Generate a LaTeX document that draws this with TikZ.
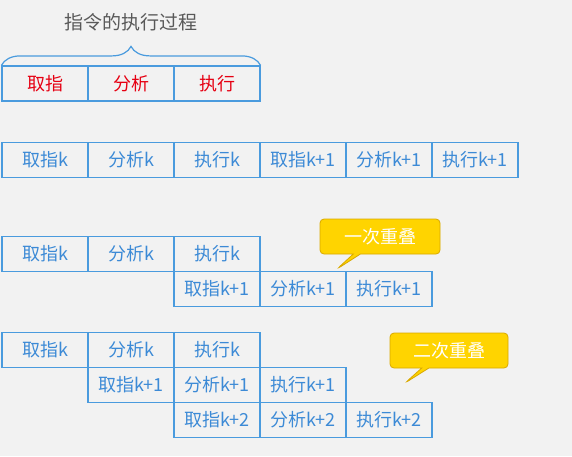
\documentclass[tikz,border=0pt]{standalone}
\usepackage{fontspec}
\setmainfont{Noto Sans CJK SC}
\usetikzlibrary{shapes.callouts,decorations.pathreplacing}
\definecolor{bg}{HTML}{F2F2F2}
\definecolor{cellblue}{HTML}{4A9BDE}
\definecolor{txtblue}{HTML}{3C8AD6}
\definecolor{redtxt}{HTML}{E60012}
\definecolor{titlegray}{HTML}{595959}
\definecolor{gold}{HTML}{FFD400}
\definecolor{golddark}{HTML}{D9A900}
\tikzset{
  cell/.style={draw=cellblue, line width=1.2pt, minimum width=86pt, minimum height=35pt,
    inner sep=0pt, text=txtblue, font=\fontsize{18}{21}\selectfont},
  redcell/.style={cell, text=redtxt},
  bubble/.style={rectangle callout, fill=gold, draw=golddark, line width=0.8pt,
    rounded corners=4pt, minimum width=120pt, minimum height=35pt, inner sep=0pt,
    text=white, font=\fontsize{18}{21}\selectfont}
}
\begin{document}
\begin{tikzpicture}[x=1pt,y=-1pt]
\fill[bg] (0,0) rectangle (572,456);
\useasboundingbox (0,0) rectangle (572,456);
% title
\node[text=titlegray, font=\fontsize{19}{22}\selectfont] (title) at (131,22) {指令的执行过程};
% row 1
\node[redcell] (a1) at (45,83.5) {取指};
\node[redcell] (a2) at (131,83.5) {分析};
\node[redcell] (a3) at (217,83.5) {执行};
\draw[cellblue, line width=1.2pt, decorate, decoration={brace, amplitude=19pt}]
  (a1.north west) -- (a3.north east);
% row 2
\node[cell] (b1) at (45,160) {取指k};
\node[cell] (b2) at (131,160) {分析k};
\node[cell] (b3) at (217,160) {执行k};
\node[cell] (b4) at (303,160) {取指k+1};
\node[cell] (b5) at (389,160) {分析k+1};
\node[cell] (b6) at (475,160) {执行k+1};
% row 3
\node[cell] (c1) at (45,254) {取指k};
\node[cell] (c2) at (131,254) {分析k};
\node[cell] (c3) at (217,254) {执行k};
\node[cell] (c4) at (217,289) {取指k+1};
\node[cell] (c5) at (303,289) {分析k+1};
\node[cell] (c6) at (389,289) {执行k+1};
\node[bubble, callout absolute pointer={(337,269)}] (call1) at (380,236.5) {一次重叠};
% row 4
\node[cell] (d1) at (45,350) {取指k};
\node[cell] (d2) at (131,350) {分析k};
\node[cell] (d3) at (217,350) {执行k};
\node[cell] (d4) at (131,385) {取指k+1};
\node[cell] (d5) at (217,385) {分析k+1};
\node[cell] (d6) at (303,385) {执行k+1};
\node[cell] (d7) at (217,420) {取指k+2};
\node[cell] (d8) at (303,420) {分析k+2};
\node[cell] (d9) at (389,420) {执行k+2};
\node[bubble, minimum width=118pt, callout absolute pointer={(405,383)}] (call2) at (449,350.5) {二次重叠};
\end{tikzpicture}
\end{document}
